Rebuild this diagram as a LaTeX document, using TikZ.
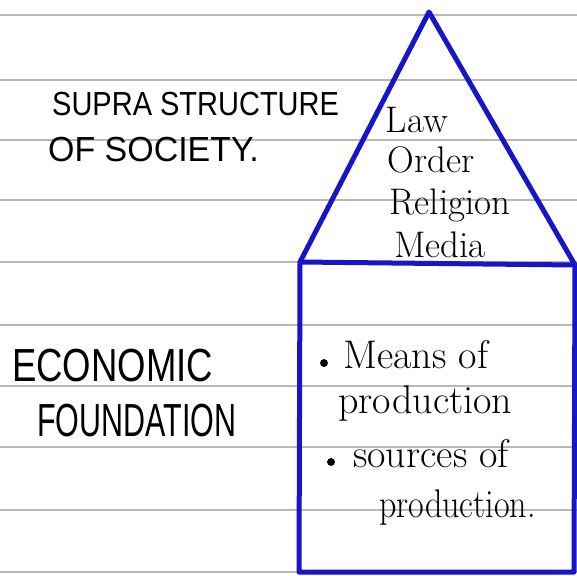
\documentclass[tikz,border=0pt]{standalone}
\usepackage{fontspec}
\newfontfamily\capsfont{Liberation Sans}
\definecolor{penblue}{RGB}{22,22,200}
\definecolor{ruled}{RGB}{185,185,180}
\tikzset{
  rule/.style={draw=ruled, line width=1.1pt},
  house/.style={draw=penblue, line width=5pt, line join=round, line cap=round},
  caps/.style={font=\capsfont\fontsize{29}{32}\selectfont, anchor=base west, inner sep=0pt, text=black},
  roof/.style={font=\fontsize{37}{40}\selectfont, anchor=base, inner sep=0pt, text=black},
  base/.style={font=\fontsize{40}{44}\selectfont, anchor=base west, inner sep=0pt, text=black},
  bullet/.style={circle, draw=black, fill=black, line width=0.8pt, inner sep=0pt, minimum size=7pt}
}
\begin{document}
\begin{tikzpicture}[x=1pt,y=-1pt]
\useasboundingbox[fill=white] (0,0) rectangle (577,575);
% ruled paper lines
\foreach \yy in {15,80,140,200,262,325,386,447,510,572}
  \draw[rule] (0,\yy) -- (577,\yy);
% house shape
\coordinate (apex) at (429,12);
\coordinate (bl) at (300,262);
\coordinate (br) at (575,265);
\coordinate (fl) at (299,572);
\coordinate (fr) at (574,572);
\draw[house] (bl) -- (apex) -- (br);
\draw[house] (bl) -- (br) -- (fr) -- (fl) -- cycle;
% left labels
\node[caps] (supra) at (52,115) {\scalebox{1}[1.15]{SUPRA STRUCTURE}};
\node[caps] (soc) at (48,161) {\scalebox{1.17}[1.2]{OF SOCIETY.}};
\node[caps] (eco) at (12,381) {\scalebox{1.26}[1.6]{ECONOMIC}};
\node[caps] (fou) at (37,436) {\scalebox{1.05}[1.6]{FOUNDATION}};
% roof text
\node[roof] (law) at (417,132) {Law};
\node[roof] (order) at (431,172) {Order};
\node[roof] (rel) at (450,214) {Religion};
\node[roof] (med) at (440,257) {Media};
% foundation text
\node[bullet] (b1) at (324,363) {};
\node[base] (means) at (343,368) {Means of};
\node[base] (prod1) at (338,413) {production};
\node[bullet] (b2) at (331,462) {};
\node[base] (src) at (353,467) {sources of};
\node[base] (prod2) at (379,517) {\scalebox{0.85}[1]{production.}};
\end{tikzpicture}
\end{document}
